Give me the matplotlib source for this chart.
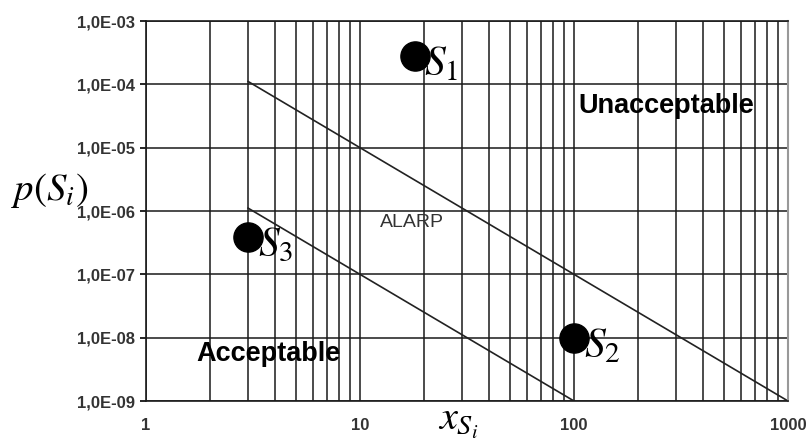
import matplotlib.pyplot as plt
import numpy as np

plt.rcParams['mathtext.fontset'] = 'stix'

# scenario points
pt_names = [r'$S_1$', r'$S_2$', r'$S_3$']
pt_x = [18, 100, 3]
pt_y = [2.8e-4, 1.0e-8, 3.9e-7]

# boundary lines
upper_x = [3, 1000]
upper_y = [1.11e-4, 1.0e-9]
lower_x = [3, 100]
lower_y = [1.11e-6, 1.0e-9]

y_ticks = [1e-9, 1e-8, 1e-7, 1e-6, 1e-5, 1e-4, 1e-3]
y_labels = ['1,0E-09', '1,0E-08', '1,0E-07', '1,0E-06', '1,0E-05', '1,0E-04', '1,0E-03']
x_ticks = [1, 10, 100, 1000]
x_labels = ['1', '10', '100', '1000']

fig = plt.figure(figsize=(8.07, 4.43), dpi=100)
ax = fig.add_axes([146/807, 1 - 401/443, (788-146)/807, (401-21)/443])
ax.set_xscale('log')
ax.set_yscale('log')
ax.set_xlim(1, 1000)
ax.set_ylim(1e-9, 1e-3)

ax.grid(True, axis='x', which='both', color='#1a1a1a', lw=1.1)
ax.grid(True, axis='y', which='major', color='#1a1a1a', lw=1.1)
ax.set_axisbelow(True)

ax.plot(upper_x, upper_y, color='#222222', lw=1.2)
ax.plot(lower_x, lower_y, color='#222222', lw=1.2)
ax.plot(pt_x, pt_y, 'o', color='black', ms=21, zorder=5)

for name, x, y in zip(pt_names, pt_x, pt_y):
    ax.text(x * 1.11, y / 1.3, name, fontsize=30,
            ha='left', va='center', zorder=6)

ax.text(10**((666-146)/214), 4.6e-5, 'Unacceptable', fontsize=19.5,
        fontweight='bold', ha='center', va='center', family='Liberation Sans')
ax.text(10**((268-146)/214), 5.5e-9, 'Acceptable', fontsize=19.5, fontweight='bold',
        ha='center', va='center', family='Liberation Sans')
ax.text(10**((412-146)/214), 6.6e-7, 'ALARP', fontsize=14, color='#333333',
        ha='center', va='center', family='Liberation Sans')

ax.set_yticks(y_ticks)
ax.set_yticklabels(y_labels, fontsize=12, fontweight='bold', color='#333333',
                   family='Liberation Sans')
ax.set_xticks(x_ticks)
ax.set_xticklabels(x_labels, fontsize=12, fontweight='bold', color='#333333',
                   family='Liberation Sans')
ax.yaxis.set_minor_formatter(plt.NullFormatter())
ax.xaxis.set_minor_formatter(plt.NullFormatter())
ax.tick_params(axis='y', which='major', length=4, width=1.2, pad=4)
ax.tick_params(axis='y', which='minor', length=0)
ax.tick_params(axis='x', which='both', length=0, pad=12)

for s in ['left', 'bottom', 'top']:
    ax.spines[s].set_color('#1a1a1a')
    ax.spines[s].set_linewidth(1.2)
ax.spines['right'].set_color('#999999')
ax.spines['right'].set_linewidth(1.5)

fig.text(50/807, 1 - 190/443, r'$p\left(S_i\right)$', fontsize=28,
         ha='center', va='center')
fig.text(458/807, 1 - 421/443, r'$x_{S_i}$', fontsize=29,
         ha='center', va='center')

fig.savefig('out.png', dpi=100)
